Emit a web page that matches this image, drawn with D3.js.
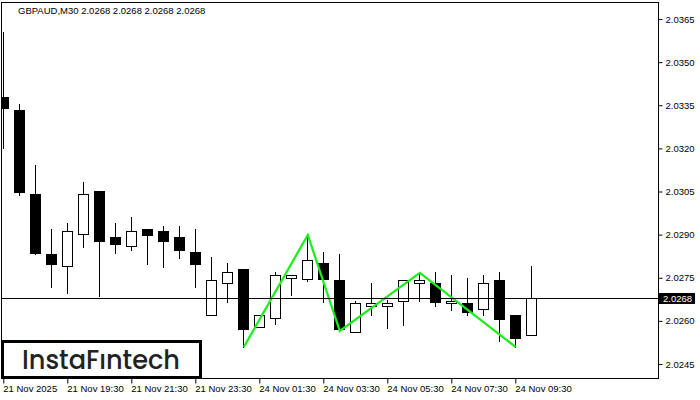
<!DOCTYPE html>
<html>
<head>
<meta charset="utf-8">
<script src="https://cdn.jsdelivr.net/npm/d3@7"></script>
<style>
  html, body { margin: 0; padding: 0; background: #fff; }
  svg { display: block; }
  text { font-family: "Liberation Sans", Arial, sans-serif; }
</style>
</head>
<body>
<svg id="chart" width="700" height="400"></svg>
<script>
// ---- data ----
const title = "GBPAUD,M30  2.0268 2.0268 2.0268 2.0268";
const times = [
  "21 Nov 17:30","21 Nov 18:00","21 Nov 18:30","21 Nov 19:00","21 Nov 19:30","21 Nov 20:00","21 Nov 20:30",
  "21 Nov 21:00","21 Nov 21:30","21 Nov 22:00","21 Nov 22:30","21 Nov 23:00","21 Nov 23:30",
  "24 Nov 00:00","24 Nov 00:30","24 Nov 01:00","24 Nov 01:30","24 Nov 02:00","24 Nov 02:30","24 Nov 03:00",
  "24 Nov 03:30","24 Nov 04:00","24 Nov 04:30","24 Nov 05:00","24 Nov 05:30","24 Nov 06:00","24 Nov 06:30",
  "24 Nov 07:00","24 Nov 07:30","24 Nov 08:00","24 Nov 08:30","24 Nov 09:00","24 Nov 09:30","24 Nov 10:00"
];
const opens  = [2.0338,2.03333,2.03041,2.02833,2.02791,2.02902,2.03052,2.02892,2.02860,2.02920,2.02913,2.02892,2.02840,
                2.02620,2.02732,2.02780,2.02579,2.02610,2.02749,2.02746,2.02801,2.02742,2.02561,2.02652,2.02652,
                2.02669,2.02732,2.02732,2.02662,2.02662,2.02641,2.02742,2.02620,2.02551];
const highs  = [2.03605,2.03354,2.03142,2.02920,2.02940,2.03083,2.03052,2.02940,2.02961,2.02920,2.02930,2.02930,2.02920,
                2.02822,2.02801,2.02780,2.02620,2.02770,2.02760,2.02899,2.02840,2.02833,2.02669,2.02732,2.02673,
                2.02742,2.02767,2.02770,2.02760,2.02749,2.02760,2.02770,2.02620,2.02791];
const lows   = [2.03201,2.03038,2.02834,2.02718,2.02697,2.02857,2.02687,2.02836,2.02847,2.02798,2.02787,2.02819,2.02718,
                2.02620,2.02666,2.02509,2.02579,2.02589,2.02690,2.02739,2.02666,2.02565,2.02561,2.02620,2.02575,
                2.02586,2.02669,2.02652,2.02638,2.02620,2.02620,2.02530,2.02509,2.02551];
const closes = [2.0334,2.03048,2.02836,2.02798,2.02913,2.03041,2.02878,2.02867,2.02913,2.02899,2.02878,2.02847,2.02798,
                2.02742,2.02770,2.02572,2.02620,2.02760,2.02760,2.02812,2.02746,2.02572,2.02662,2.02662,2.02662,
                2.02742,2.02742,2.02666,2.02669,2.02631,2.02732,2.02607,2.02540,2.0268];
const lastPrice = 2.0268;
const patternIdx = [15, 19, 21, 26, 32];
const patternVals = [2.02509, 2.02899, 2.02565, 2.02767, 2.02509];
const yTicks = [2.0245, 2.0260, 2.0275, 2.0290, 2.0305, 2.0320, 2.0335, 2.0350, 2.0365];
const xTickIdx = [0, 4, 8, 12, 16, 20, 24, 28, 32];
const xTickLabels = ["21 Nov 2025","21 Nov 19:30","21 Nov 21:30","21 Nov 23:30","24 Nov 01:30",
                     "24 Nov 03:30","24 Nov 05:30","24 Nov 07:30","24 Nov 09:30"];
const brand = "InstaF\u0131ntech";

// ---- layout ----
const svg = d3.select("#chart");
const plot = {left: 1.5, top: 2.5, right: 658.5, bottom: 378.5};

const x = d3.scaleLinear().domain([0, 33]).range([3.3, 531.3]);
const y = d3.scaleLinear().domain([2.0245, 2.0365]).range([364, 19]);
const px = i => Math.round(x(i));
const py = v => Math.round(y(v));

svg.append("defs").append("clipPath").attr("id", "clip")
  .append("rect").attr("x", 2).attr("y", 3).attr("width", 656).attr("height", 375);

const g = svg.append("g").attr("clip-path", "url(#clip)");

// price line
const lpY = py(lastPrice) + 0.5;
svg.append("line").attr("x1", plot.left).attr("x2", plot.right)
  .attr("y1", lpY).attr("y2", lpY).attr("stroke", "#000").attr("stroke-width", 1);

// candles
const data = times.map((t, i) => ({i, t, o: opens[i], h: highs[i], l: lows[i], c: closes[i]}));
const cg = g.selectAll("g.candle").data(data).join("g").attr("class", "candle");
cg.append("line")
  .attr("x1", d => px(d.i) + 0.5).attr("x2", d => px(d.i) + 0.5)
  .attr("y1", d => py(d.h)).attr("y2", d => py(d.l) + 1)
  .attr("stroke", "#000").attr("stroke-width", 1);
cg.each(function(d) {
  const sel = d3.select(this);
  const top = py(Math.max(d.o, d.c)), bot = py(Math.min(d.o, d.c));
  const cx = px(d.i);
  if (d.c < d.o) {
    sel.append("rect").attr("x", cx - 5).attr("y", top).attr("width", 11)
      .attr("height", Math.max(1, bot - top + 1)).attr("fill", "#000");
  } else {
    sel.append("rect").attr("x", cx - 4.5).attr("y", top + 0.5).attr("width", 10)
      .attr("height", Math.max(1, bot - top)).attr("fill", "#fff")
      .attr("stroke", "#000").attr("stroke-width", 1);
  }
});

// pattern zigzag
const zz = d3.line().x((d, k) => x(patternIdx[k]) + 0.5).y(d => y(d));
g.append("path").attr("d", zz(patternVals)).attr("fill", "none")
  .attr("stroke", "#19f019").attr("stroke-width", 2.2).attr("stroke-linejoin", "miter");

// frame
svg.append("rect").attr("x", plot.left).attr("y", plot.top)
  .attr("width", plot.right - plot.left).attr("height", plot.bottom - plot.top)
  .attr("fill", "none").attr("stroke", "#000").attr("stroke-width", 1);

// y axis
const yAxis = d3.axisRight(y).tickValues(yTicks).tickFormat(d3.format(".4f")).tickSize(4).tickPadding(3);
const ya = svg.append("g").attr("transform", `translate(${plot.right},0)`).call(yAxis);
ya.select(".domain").remove();
ya.selectAll(".tick line").attr("stroke", "#000");
ya.selectAll(".tick text").attr("fill", "#000").style("font-size", "9.5px")
  .style("font-family", "Liberation Sans, Arial, sans-serif");

// x axis
const xAxis = d3.axisBottom(x).tickValues(xTickIdx).tickFormat((d, k) => xTickLabels[k]).tickSize(5).tickPadding(2);
const xa = svg.append("g").attr("transform", `translate(0,${plot.bottom})`).call(xAxis);
xa.select(".domain").remove();
xa.selectAll(".tick line").attr("stroke", "#000");
xa.selectAll(".tick text").attr("fill", "#000").attr("text-anchor", "start").attr("x", -0.5)
  .style("font-size", "9.5px").style("font-family", "Liberation Sans, Arial, sans-serif");

// last price label
svg.append("rect").attr("x", 659).attr("y", lpY - 5.5).attr("width", 36).attr("height", 11).attr("fill", "#000");
svg.append("text").attr("x", 663).attr("y", lpY + 3.5).attr("fill", "#fff")
  .style("font-size", "9.5px").text(d3.format(".4f")(lastPrice));

// title
svg.append("text").attr("x", 18).attr("y", 14).attr("fill", "#000")
  .style("font-size", "9.5px").text(title);

// brand box
svg.append("rect").attr("x", 2.5).attr("y", 341.5).attr("width", 198).attr("height", 36)
  .attr("fill", "#fff").attr("stroke", "#000").attr("stroke-width", 3);
svg.append("text").attr("x", 22).attr("y", 369).attr("fill", "#222")
  .style("font-family", "Poppins, 'Noto Sans', 'Open Sans', sans-serif").style("font-size", "26px")
  .style("font-weight", "500")
  .attr("textLength", 158).attr("lengthAdjust", "spacingAndGlyphs").text(brand);
</script>
</body>
</html>
